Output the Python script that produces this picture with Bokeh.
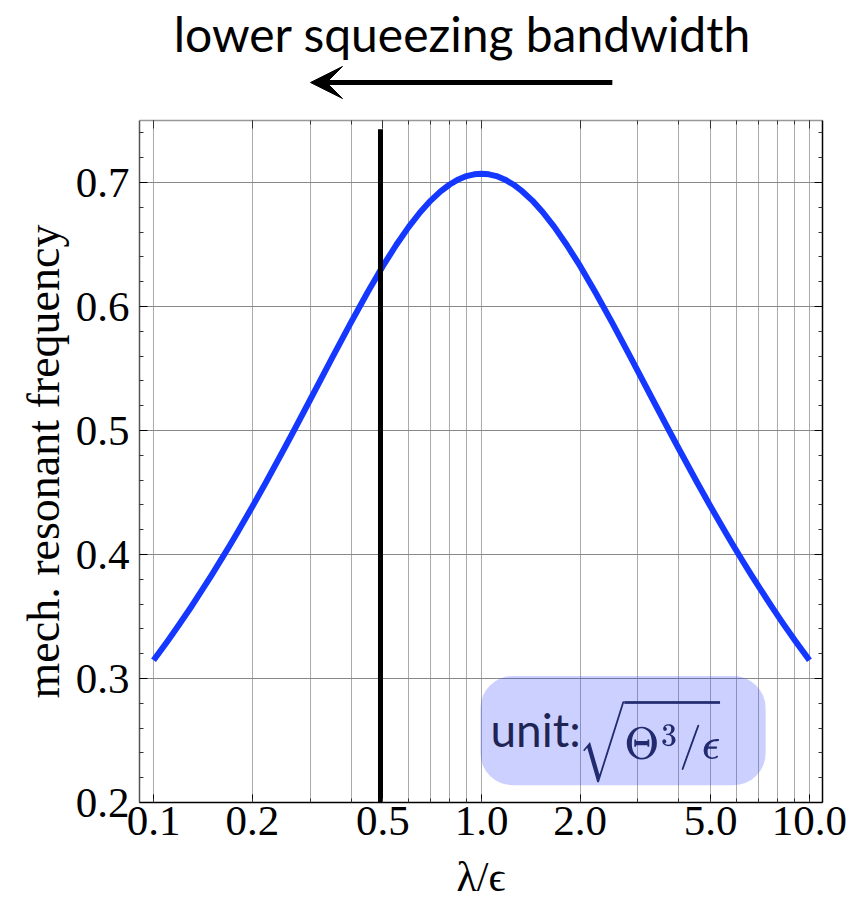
from bokeh.plotting import figure
from bokeh.layouts import column
from bokeh.models import (Range1d, LogAxis, LinearAxis, FixedTicker, CustomJSTickFormatter,
                          Label, Arrow, VeeHead, BoxAnnotation)
from bokeh.embed import file_html
from bokeh.resources import INLINE

# data
lam = [0.10, 0.11, 0.12, 0.13, 0.14, 0.15, 0.16, 0.17, 0.18, 0.20, 0.22, 0.25, 0.27, 0.30,
       0.35, 0.40, 0.45, 0.50, 0.55, 0.60, 0.65, 0.70, 0.75, 0.80, 0.85, 0.90, 0.95, 1.00,
       1.053, 1.111, 1.176, 1.25, 1.333, 1.429, 1.538, 1.667, 1.818, 2.0, 2.222, 2.5, 2.857,
       3.333, 3.704, 4.0, 4.545, 5.0, 5.556, 5.882, 6.25, 6.667, 7.143, 7.692, 8.333, 9.091,
       10.0]
freq = [0.3147, 0.3297, 0.3439, 0.3575, 0.3706, 0.3830, 0.3950, 0.4065, 0.4176, 0.4385,
        0.4581, 0.4851, 0.5016, 0.5246, 0.5584, 0.5872, 0.6117, 0.6325, 0.6498, 0.6642,
        0.6760, 0.6854, 0.6928, 0.6984, 0.7025, 0.7052, 0.7066, 0.7071, 0.7066, 0.7052,
        0.7025, 0.6984, 0.6928, 0.6854, 0.6760, 0.6642, 0.6498, 0.6325, 0.6117, 0.5872,
        0.5584, 0.5246, 0.5016, 0.4851, 0.4581, 0.4385, 0.4176, 0.4065, 0.3950, 0.3830,
        0.3706, 0.3575, 0.3439, 0.3297, 0.3147]
marker_x = [0.492, 0.492]
marker_y = [0.2, 0.743]

x_major = [0.1, 0.2, 0.5, 1.0, 2.0, 5.0, 10.0]
x_minor = [0.1, 0.2, 0.3, 0.4, 0.5, 0.6, 0.7, 0.8, 0.9, 1, 2, 3, 4, 5, 6, 7, 8, 9, 10]
y_major = [0.2, 0.3, 0.4, 0.5, 0.6, 0.7]
y_minor = [0.22, 0.24, 0.26, 0.28, 0.32, 0.34, 0.36, 0.38, 0.42, 0.44, 0.46, 0.48,
           0.52, 0.54, 0.56, 0.58, 0.62, 0.64, 0.66, 0.68, 0.72, 0.74]

SERIF = "Liberation Serif"
TOP_H = 110

xr = Range1d(0.0906, 10.96)

# ---- header figure: title and arrow ----
h = figure(width=867, height=TOP_H, x_axis_type="log", x_range=xr, y_range=Range1d(0, TOP_H),
           output_backend="svg", toolbar_location=None,
           min_border_left=139, min_border_right=45, min_border_top=0, min_border_bottom=0)
h.axis.visible = False
h.grid.visible = False
h.outline_line_color = None
h.add_layout(Label(x=0.875, y=TOP_H - 33, text="lower squeezing bandwidth", text_font="Lato",
                   text_font_size="48px", text_align="center", text_baseline="alphabetic",
                   text_color="black"))
h.add_layout(Arrow(x_start=2.506, y_start=TOP_H - 82, x_end=0.301, y_end=TOP_H - 82,
                   line_width=5, line_color="black",
                   end=VeeHead(size=32, fill_color="black", line_color="black")))

# ---- main figure ----
p = figure(width=867, height=908 - TOP_H, x_axis_type="log",
           x_range=xr, y_range=Range1d(0.2, 0.75),
           output_backend="svg", toolbar_location=None,
           min_border_left=139, min_border_right=45, min_border_top=10, min_border_bottom=106)
p.outline_line_color = None

fmt = CustomJSTickFormatter(code="return tick.toFixed(1);")
blank = CustomJSTickFormatter(code="return '';")

xa = p.xaxis[0]
xa.ticker = FixedTicker(ticks=x_major, minor_ticks=x_minor)
xa.formatter = fmt
ya = p.yaxis[0]
ya.ticker = FixedTicker(ticks=y_major, minor_ticks=y_minor)
ya.formatter = fmt

for ax in (xa, ya):
    ax.major_label_text_font = SERIF
    ax.major_label_text_font_size = "43px"
    ax.major_label_text_color = "black"
    ax.axis_label_text_font = SERIF
    ax.axis_label_text_font_style = "normal"
    ax.axis_label_text_color = "black"
    ax.major_tick_in = 8
    ax.major_tick_out = 0
    ax.minor_tick_in = 4
    ax.minor_tick_out = 0
    ax.major_tick_line_color = "black"
    ax.minor_tick_line_color = "#333333"

xa.axis_line_color = "black"
xa.axis_line_width = 1.5
xa.major_label_standoff = 4
xa.axis_label = "λ/ϵ"
xa.axis_label_text_font_size = "42px"
xa.axis_label_standoff = 16

ya.axis_line_color = "#555555"
ya.axis_line_width = 1.5
ya.major_label_standoff = 10
ya.axis_label = "mech. resonant frequency"
ya.axis_label_text_font_size = "46px"
ya.axis_label_standoff = 4

ra = LinearAxis(ticker=FixedTicker(ticks=y_major, minor_ticks=y_minor),
                formatter=blank, major_label_standoff=0,
                major_tick_in=8, major_tick_out=0,
                minor_tick_in=4, minor_tick_out=0, axis_line_color="black", axis_line_width=1.5,
                major_tick_line_color="black", minor_tick_line_color="#333333")
ta = LogAxis(ticker=FixedTicker(ticks=x_major, minor_ticks=x_minor),
             formatter=blank, major_label_standoff=0,
             major_tick_in=8, major_tick_out=0,
             minor_tick_in=4, minor_tick_out=0, axis_line_color="#999999", axis_line_width=1.5,
             major_tick_line_color="#333333", minor_tick_line_color="#333333")
p.add_layout(ra, "right")
p.add_layout(ta, "above")

p.xgrid.ticker = FixedTicker(ticks=x_minor)
p.xgrid.grid_line_color = "#aaaaaa"
p.xgrid.grid_line_width = 1
p.ygrid.ticker = FixedTicker(ticks=y_major[1:])
p.ygrid.grid_line_color = "#888888"
p.ygrid.grid_line_width = 1

# unit box
p.add_layout(BoxAnnotation(left=0.993, right=7.35, bottom=0.214, top=0.302,
                           fill_color="#3344ff", fill_alpha=0.25, line_color=None,
                           border_radius=32, level="overlay"))

p.line(lam, freq, line_width=6, color="#1438ff", line_join="round")
p.line(marker_x, marker_y, line_width=5, color="black")

p.add_layout(Label(x=1.065, y=0.2585, text="unit:", text_font="Lato", text_font_size="46px",
                   text_color="#1a1a1a", text_baseline="alphabetic"))
p.add_layout(Label(x=1.97, y=0.2500, text=r"$$\sqrt{\Theta^3/\epsilon}$$",
                   text_font_size="37px", text_color="#1c2340", text_baseline="middle"))

open("out.html", "w").write(file_html(column(h, p, spacing=0), INLINE))
